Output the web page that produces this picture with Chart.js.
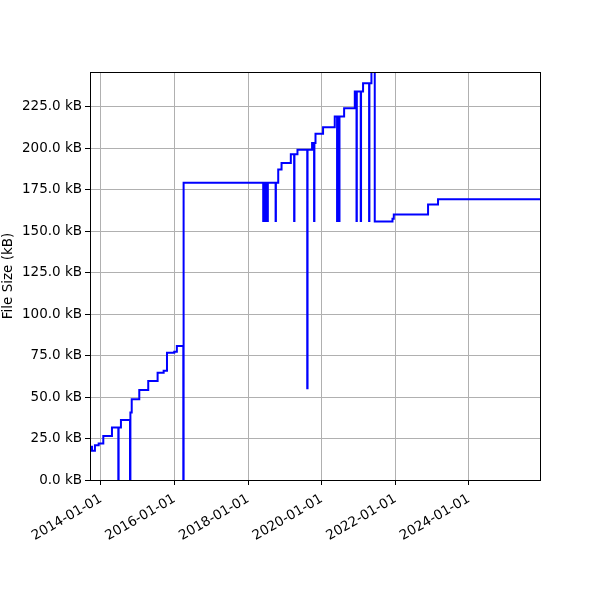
<!DOCTYPE html>
<html>
<head>
<meta charset="utf-8">
<script src="https://cdn.jsdelivr.net/npm/chart.js@4"></script>
<style>
  html, body { margin: 0; padding: 0; background: #fff; }
</style>
</head>
<body>
<canvas id="chart" width="600" height="600"></canvas>
<script>
// commit dates and file size (kB) after each commit
const dates = [
    '2013-09-24', '2013-10-04', '2013-11-02', '2013-12-09', '2014-01-24',
    '2014-04-20', '2014-06-22', '2014-06-25', '2014-07-18', '2014-10-16',
    '2014-10-20', '2014-11-02', '2015-01-16', '2015-04-15', '2015-07-17',
    '2015-09-15', '2015-10-18', '2015-12-29', '2016-01-24', '2016-03-28',
    '2016-03-31', '2018-05-30', '2018-06-02', '2018-06-06', '2018-06-09',
    '2018-06-13', '2018-06-16', '2018-06-20', '2018-06-23', '2018-06-27',
    '2018-06-30', '2018-07-04', '2018-07-07', '2018-07-12', '2018-07-15',
    '2018-09-30', '2018-10-03', '2018-10-26', '2018-11-28', '2019-02-28',
    '2019-04-02', '2019-04-05', '2019-05-05', '2019-08-10', '2019-08-13',
    '2019-09-27', '2019-10-17', '2019-10-20', '2019-10-31', '2020-01-14',
    '2020-05-09', '2020-06-01', '2020-06-04', '2020-06-08', '2020-06-11',
    '2020-06-15', '2020-06-18', '2020-06-22', '2020-06-25', '2020-08-10',
    '2020-11-24', '2020-12-11', '2020-12-14', '2021-01-22', '2021-01-25',
    '2021-02-14', '2021-04-15', '2021-04-18', '2021-05-08', '2021-06-10',
    '2021-12-03', '2021-12-16', '2022-11-21', '2023-02-28', '2025-12-06'
];
const sizes = [
    20.0, 17.6, 21.0, 22.0, 26.5,
    31.7, 0, 31.7, 36.1, 0,
    40.7, 48.6, 54.2, 59.6, 64.6,
    65.8, 76.6, 77.2, 80.8, 0,
    179.1, 156, 179.1, 156, 179.1,
    156, 179.1, 156, 179.1, 156,
    179.1, 156, 179.1, 156, 179.1,
    156, 179.1, 187, 191, 196.2,
    156, 196.2, 199, 55.2, 199,
    203, 156, 203, 208.6, 212.5,
    219, 156, 219, 156, 219,
    156, 219, 156, 219, 224,
    234, 156, 234, 156, 234,
    239, 156, 239, 245.8, 155.8,
    157.4, 160, 165.9, 169.1, 169.1
];

const xTicks = ['2014-01-01', '2016-01-01', '2018-01-01', '2020-01-01', '2022-01-01', '2024-01-01'];
const yTicks = [0, 25, 50, 75, 100, 125, 150, 175, 200, 225];
const xRange = ['2013-09-14', '2025-12-06'];
const yMax = 245.8;

const ms = s => Date.parse(s + 'T00:00:00Z');

// matplotlib-style box around the plot
const frame = {
    id: 'frame',
    afterDatasetsDraw(chart) {
        const { ctx, chartArea: a } = chart;
        ctx.save();
        ctx.strokeStyle = '#000';
        ctx.lineWidth = 1;
        ctx.strokeRect(Math.round(a.left) + 0.5, Math.round(a.top) + 0.5,
            Math.round(a.right - a.left), Math.round(a.bottom - a.top));
        ctx.restore();
    }
};

const font = { family: 'DejaVu Sans', size: 13.5 };

new Chart(document.getElementById('chart'), {
    type: 'line',
    data: {
        datasets: [{
            data: dates.map((d, i) => ({ x: ms(d), y: sizes[i] })),
            borderColor: '#0000ff',
            borderWidth: 2,
            pointRadius: 0,
            stepped: 'before',
            fill: false
        }]
    },
    options: {
        responsive: false,
        animation: false,
        layout: { padding: { top: 72, right: 60, left: 0, bottom: 0 } },
        plugins: { legend: { display: false }, tooltip: { enabled: false } },
        scales: {
            x: {
                type: 'linear',
                min: ms(xRange[0]),
                max: ms(xRange[1]),
                afterBuildTicks: s => { s.ticks = xTicks.map(t => ({ value: ms(t) })); },
                afterFit: s => { s.height = 120; },
                grid: { color: '#b0b0b0', tickColor: '#000', tickLength: 5 },
                border: { display: false },
                ticks: {
                    autoSkip: false,
                    minRotation: 30,
                    maxRotation: 30,
                    padding: 6,
                    color: '#000',
                    font: font,
                    callback: v => new Date(v).toISOString().slice(0, 10)
                }
            },
            y: {
                min: 0,
                max: yMax,
                afterBuildTicks: s => { s.ticks = yTicks.map(v => ({ value: v })); },
                afterFit: s => { s.width = 90; },
                grid: { color: '#b0b0b0', tickColor: '#000', tickLength: 5 },
                border: { display: false },
                ticks: {
                    padding: 3,
                    color: '#000',
                    font: font,
                    callback: v => v.toFixed(1) + ' kB'
                },
                title: {
                    display: true,
                    text: 'File Size (kB)',
                    color: '#000',
                    font: font,
                    padding: 0
                }
            }
        }
    },
    plugins: [frame]
});
</script>
</body>
</html>
